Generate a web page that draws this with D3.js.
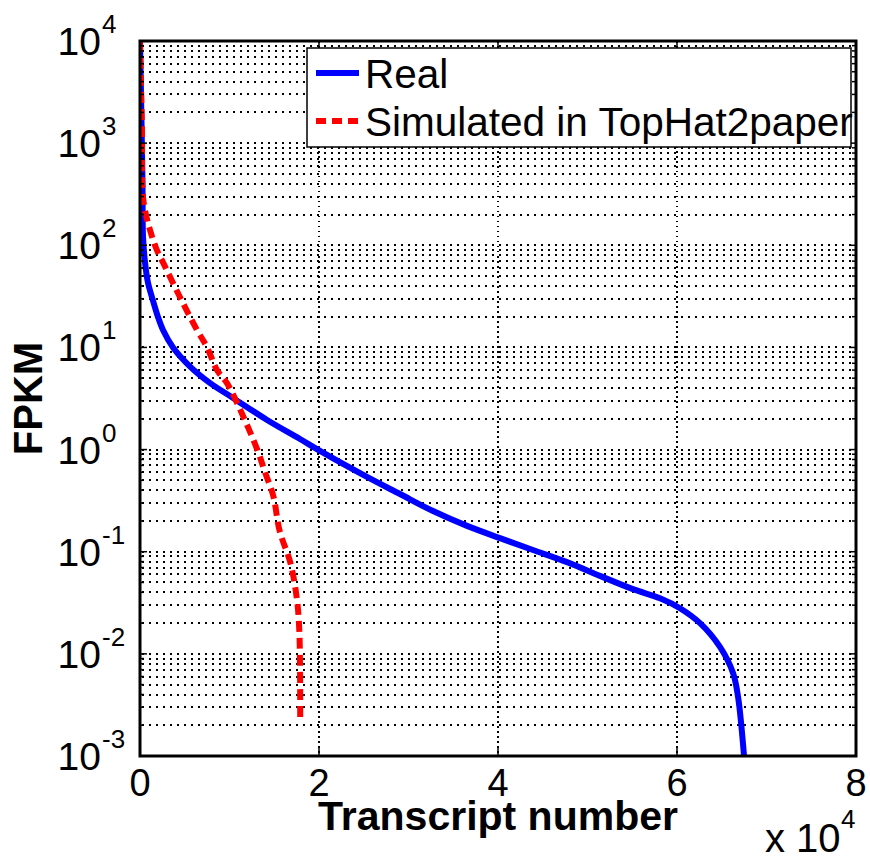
<!DOCTYPE html>
<html>
<head>
<meta charset="utf-8">
<title>FPKM vs transcript number</title>
<script src="https://d3js.org/d3.v7.min.js"></script>
<style>
  body { margin: 0; background: #fff; }
  text { font-family: 'Liberation Sans', Arial, Helvetica, sans-serif; fill: #000; }
</style>
</head>
<body>
<svg id="chart"></svg>
<script>
// values (transcript number, FPKM)
var realTranscripts = [0, 150, 280, 340, 560, 890, 1340, 2000, 2570, 3690, 5600, 7800, 10400, 14200, 17880, 20110,
    25360, 29050, 32740, 36540, 40220, 43910, 47710, 51400, 55080, 58100, 60330, 62570, 64800, 66260, 66820, 67490];
var realFpkm = [10000, 2000, 400, 120, 68, 43, 31, 20, 14.8, 10, 6.5, 4.5, 3.2, 1.95, 1.27, 0.97,
    0.54, 0.367, 0.25, 0.179, 0.136, 0.104, 0.079, 0.058, 0.043, 0.035, 0.028, 0.020, 0.0117, 0.0065, 0.0038, 0.001];

var simTranscripts = [0, 220, 340, 890, 1900, 2570, 4470, 6370, 7500, 8600, 9700, 11200, 13100, 13970,
    14900, 15600, 16800, 17500, 17800, 17900];
var simFpkm = [10000, 1350, 295, 166, 89, 68, 31, 14.8, 10, 6.0, 4.5, 2.45, 1.0, 0.6,
    0.35, 0.16, 0.078, 0.036, 0.017, 0.0022];

var seriesNames = ['Real', 'Simulated in TopHat2paper'];
var xTickValues = [0, 2, 4, 6, 8];          // in units of 10^4
var yTickExponents = [-3, -2, -1, 0, 1, 2, 3, 4];

var svgWidth = 870, svgHeight = 859;
var plotLeft = 140, plotRight = 856, plotTop = 41, plotBottom = 756;

var svg = d3.select('#chart')
    .attr('width', svgWidth)
    .attr('height', svgHeight);

var x = d3.scaleLinear().domain([0, 80000]).range([plotLeft, plotRight]);
var y = d3.scaleLog().domain([1e-3, 1e4]).range([plotBottom, plotTop]);

svg.append('clipPath').attr('id', 'plotclip')
    .append('rect')
    .attr('x', plotLeft).attr('y', plotTop)
    .attr('width', plotRight - plotLeft).attr('height', plotBottom - plotTop);

// grid
var gridVals = [];
yTickExponents.forEach(function(e) {
    for (var k = 1; k <= 9; k++) {
        var v = k * Math.pow(10, e);
        if (v <= 1e4) gridVals.push({ v: v, major: k == 1 });
    }
});

var grid = svg.append('g').attr('shape-rendering', 'crispEdges');
grid.selectAll('line.h')
    .data(gridVals)
    .enter()
    .append('line')
    .attr('class', 'h')
    .attr('x1', plotLeft + 2).attr('x2', plotRight)
    .attr('y1', function(d) { return Math.round(y(d.v)); })
    .attr('y2', function(d) { return Math.round(y(d.v)); })
    .attr('stroke', '#000')
    .attr('stroke-width', 2)
    .attr('stroke-dasharray', '2,5');

grid.selectAll('line.v')
    .data(xTickValues.filter(function(d) { return d > 0 && d < 8; }))
    .enter()
    .append('line')
    .attr('class', 'v')
    .attr('x1', function(d) { return Math.round(x(d * 1e4)); })
    .attr('x2', function(d) { return Math.round(x(d * 1e4)); })
    .attr('y1', plotTop).attr('y2', plotBottom)
    .attr('stroke', '#000')
    .attr('stroke-width', 1.3)
    .attr('stroke-dasharray', '1.5,3.5');

// curves
var line = d3.line()
    .x(function(d) { return x(d[0]); })
    .y(function(d) { return y(d[1]); })
    .curve(d3.curveCatmullRom.alpha(0.5));

var realData = realTranscripts.map(function(t, i) { return [t, realFpkm[i]]; });
var simData = simTranscripts.map(function(t, i) { return [t, simFpkm[i]]; });

var curves = svg.append('g').attr('clip-path', 'url(#plotclip)');
curves.append('path')
    .attr('d', line(realData))
    .attr('fill', 'none')
    .attr('stroke', '#0000ff')
    .attr('stroke-width', 6);
curves.append('path')
    .attr('d', line(simData))
    .attr('fill', 'none')
    .attr('stroke', '#ff0000')
    .attr('stroke-width', 6)
    .attr('stroke-dasharray', '11,6');

// ticks (inside, mirrored on top/right)
var ticks = svg.append('g').attr('stroke', '#000').attr('stroke-width', 1.5);
gridVals.forEach(function(d) {
    var len = d.major ? 7 : 4;
    ticks.append('line').attr('x1', plotLeft).attr('x2', plotLeft + len).attr('y1', y(d.v)).attr('y2', y(d.v));
    ticks.append('line').attr('x1', plotRight).attr('x2', plotRight - len).attr('y1', y(d.v)).attr('y2', y(d.v));
});
xTickValues.forEach(function(d) {
    var px = x(d * 1e4);
    ticks.append('line').attr('x1', px).attr('x2', px).attr('y1', plotBottom).attr('y2', plotBottom - 8);
    ticks.append('line').attr('x1', px).attr('x2', px).attr('y1', plotTop).attr('y2', plotTop + 8);
});

// frame
svg.append('rect')
    .attr('x', plotLeft).attr('y', plotTop)
    .attr('width', plotRight - plotLeft).attr('height', plotBottom - plotTop)
    .attr('fill', 'none')
    .attr('stroke', '#000')
    .attr('stroke-width', 3);

// y tick labels 10^e
var ylab = svg.append('g');
yTickExponents.forEach(function(e) {
    var py = y(Math.pow(10, e));
    ylab.append('text').attr('x', 101).attr('y', py + 14)
        .attr('text-anchor', 'end').attr('font-size', 39).text('10');
    ylab.append('text').attr('x', 102).attr('y', py - 8)
        .attr('font-size', 26).text(String(e));
});

// x tick labels
svg.selectAll('text.xt')
    .data(xTickValues)
    .enter()
    .append('text')
    .attr('class', 'xt')
    .attr('x', function(d) { return x(d * 1e4); })
    .attr('y', 796)
    .attr('text-anchor', 'middle')
    .attr('font-size', 38)
    .text(function(d) { return d; });

svg.append('text').attr('x', 765).attr('y', 852).attr('font-size', 40).text('x 10');
svg.append('text').attr('x', 841).attr('y', 828).attr('font-size', 26).text('4');

// axis titles
svg.append('text')
    .attr('x', (plotLeft + plotRight) / 2).attr('y', 830)
    .attr('text-anchor', 'middle')
    .attr('font-size', 41).attr('font-weight', 'bold')
    .text('Transcript number');
svg.append('text')
    .attr('transform', 'translate(42,' + ((plotTop + plotBottom) / 2) + ') rotate(-90)')
    .attr('text-anchor', 'middle')
    .attr('font-size', 40).attr('font-weight', 'bold')
    .text('FPKM');

// legend
var legend = svg.append('g');
legend.append('rect')
    .attr('x', 307).attr('y', 48).attr('width', 544).attr('height', 99)
    .attr('fill', '#fff').attr('stroke', '#000').attr('stroke-width', 1.5);
legend.append('line').attr('x1', 316).attr('x2', 359).attr('y1', 73).attr('y2', 73)
    .attr('stroke', '#0000ff').attr('stroke-width', 6);
legend.append('line').attr('x1', 316).attr('x2', 359).attr('y1', 121).attr('y2', 121)
    .attr('stroke', '#ff0000').attr('stroke-width', 6).attr('stroke-dasharray', '10,6');
legend.append('text').attr('x', 365).attr('y', 88).attr('font-size', 40.5).text(seriesNames[0]);
legend.append('text').attr('x', 365).attr('y', 136).attr('font-size', 40.5).text(seriesNames[1]);
</script>
</body>
</html>
